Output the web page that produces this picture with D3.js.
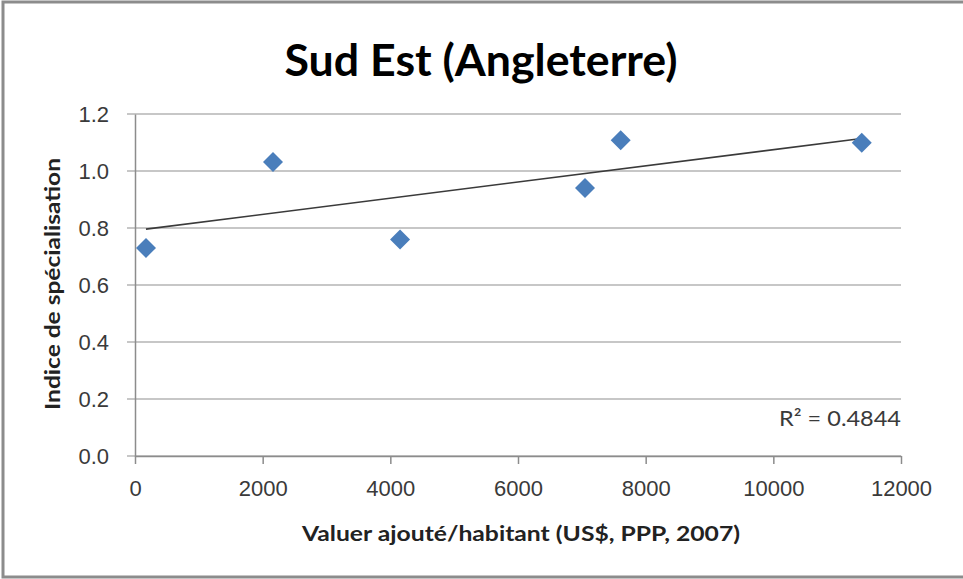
<!DOCTYPE html>
<html>
<head>
<meta charset="utf-8">
<script src="https://cdn.jsdelivr.net/npm/d3@7"></script>
<style>
  body { margin: 0; background: #fff; }
  svg { display: block; font-family: Lato, "Open Sans", sans-serif; }
</style>
</head>
<body>
<div id="chart"></div>
<script>
// Valeur ajoutée par habitant vs indice de spécialisation
const valeurAjoutee = [172, 2162, 4152, 7050, 7609, 11385];
const indice = [0.73, 1.032, 0.76, 0.94, 1.108, 1.099];
const xTicks = [0, 2000, 4000, 6000, 8000, 10000, 12000];
const yTicks = [0, 0.2, 0.4, 0.6, 0.8, 1.0, 1.2];
const rSquaredLabel = "R² = 0.4844";

const width = 963, height = 579;
const margin = {top: 114, right: 62, bottom: 123, left: 135};

const svg = d3.select("#chart").append("svg").attr("width", width).attr("height", height);

// frame
svg.append("path")
  .attr("d", `M${width},2 H3 V577 H${width}`)
  .attr("fill", "none").attr("stroke", "#8c8c8c").attr("stroke-width", 3);

const x = d3.scaleLinear([0, 12000], [margin.left, width - margin.right]);
const y = d3.scaleLinear([0, 1.2], [height - margin.bottom, margin.top]);

// horizontal grid
svg.append("g")
  .selectAll("line")
  .data(yTicks)
  .join("line")
  .attr("x1", margin.left - 8).attr("x2", width - margin.right)
  .attr("y1", (d) => y(d)).attr("y2", (d) => y(d))
  .attr("stroke", "#b5b5b5").attr("stroke-width", 1.5);

// y axis
const yAxis = svg.append("g")
  .attr("transform", `translate(${margin.left},0)`)
  .call(d3.axisLeft(y).tickValues(yTicks).tickFormat(d3.format(".1f")).tickSize(0).tickPadding(26));
yAxis.select(".domain").attr("stroke", "#8c8c8c").attr("stroke-width", 1.5);
yAxis.selectAll("text").attr("font-size", 22).attr("fill", "#3a3a3a").attr("dy", "0.35em");

// x axis
const xAxis = svg.append("g")
  .attr("transform", `translate(0,${y(0)})`)
  .call(d3.axisBottom(x).tickValues(xTicks).tickFormat(d3.format("d")).tickSize(8).tickPadding(16).tickSizeOuter(0));
xAxis.select(".domain").attr("stroke", "#8c8c8c").attr("stroke-width", 1.5);
xAxis.selectAll(".tick line").attr("stroke", "#8c8c8c").attr("stroke-width", 1.5);
xAxis.selectAll("text").attr("font-size", 22).attr("fill", "#3a3a3a");

// linear trend line (least squares)
const mx = d3.mean(valeurAjoutee), my = d3.mean(indice);
const sxy = d3.sum(valeurAjoutee, (v, i) => (v - mx) * (indice[i] - my));
const sxx = d3.sum(valeurAjoutee, (v) => (v - mx) ** 2);
const slope = sxy / sxx, intercept = my - slope * mx;
const [xMin, xMax] = d3.extent(valeurAjoutee);
svg.append("line")
  .attr("x1", x(xMin)).attr("y1", y(intercept + slope * xMin))
  .attr("x2", x(xMax)).attr("y2", y(intercept + slope * xMax))
  .attr("stroke", "#3a3a3a").attr("stroke-width", 1.6);

// points
const diamond = d3.symbol(d3.symbolSquare, 200)();
svg.append("g")
  .selectAll("path")
  .data(valeurAjoutee)
  .join("path")
  .attr("d", diamond)
  .attr("transform", (d, i) => `translate(${x(d)},${y(indice[i])}) rotate(45)`)
  .attr("fill", "#4a7ebb");

// R² label
svg.append("text")
  .attr("x", width - margin.right).attr("y", 426)
  .attr("text-anchor", "end").attr("font-size", 22).attr("fill", "#3a3a3a")
  .attr("textLength", 122).attr("lengthAdjust", "spacingAndGlyphs")
  .text(rSquaredLabel);

// title
svg.append("text")
  .attr("x", 481).attr("y", 76)
  .attr("text-anchor", "middle").attr("font-size", 44).attr("font-weight", "bold")
  .attr("fill", "#000")
  .attr("textLength", 393).attr("lengthAdjust", "spacingAndGlyphs")
  .text("Sud Est (Angleterre)");

// axis titles
svg.append("text")
  .attr("x", 521).attr("y", 541)
  .attr("text-anchor", "middle").attr("font-size", 21).attr("font-weight", "bold")
  .attr("fill", "#222")
  .attr("textLength", 438).attr("lengthAdjust", "spacingAndGlyphs")
  .text("Valuer ajouté/habitant  (US$, PPP, 2007)");

svg.append("text")
  .attr("transform", `translate(60,284) rotate(-90)`)
  .attr("text-anchor", "middle").attr("font-size", 21).attr("font-weight", "bold")
  .attr("fill", "#222")
  .attr("textLength", 252).attr("lengthAdjust", "spacingAndGlyphs")
  .text("Indice de spécialisation");
</script>
</body>
</html>
